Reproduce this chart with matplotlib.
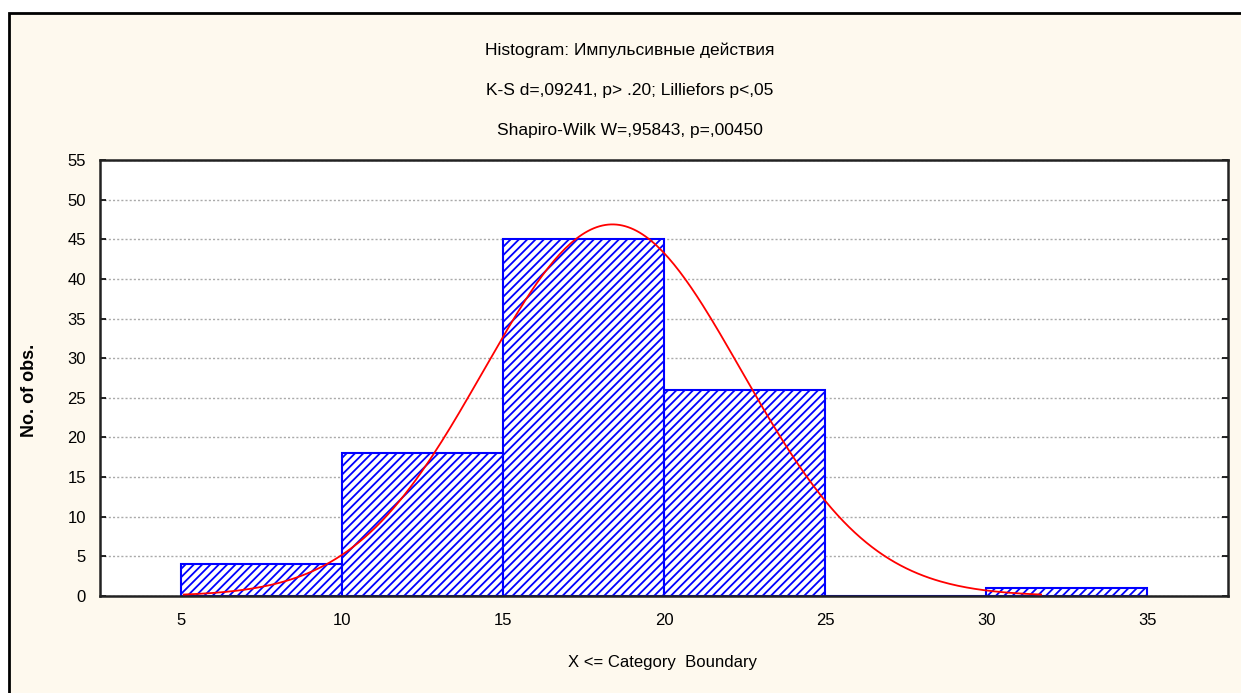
import numpy as np
import matplotlib.pyplot as plt
from matplotlib.patches import Rectangle

# histogram data
bin_left = [5, 10, 15, 20, 25, 30]
counts = [4, 18, 45, 26, 0, 1]
bin_width = 5
# fitted normal curve parameters (peak ~46.8 at ~18.4)
fit_mean = 18.4
fit_sd = 4.0
fit_n = sum(counts)
curve_range = (5.1, 31.7)

title_lines = ['Histogram: Импульсивные действия',
               'K-S d=,09241, p> .20; Lilliefors p<,05',
               'Shapiro-Wilk W=,95843, p=,00450']

plt.rcParams['font.family'] = ['Liberation Sans', 'DejaVu Sans']
plt.rcParams['hatch.linewidth'] = 1.3
plt.rcParams['hatch.color'] = '#0000ff'

fig = plt.figure(figsize=(12.41, 6.93), dpi=100, facecolor='white')

# cream panel with dark border
panel = Rectangle((9 / 1241, -0.05), 1.1, (693 - 13) / 693 + 0.05,
                  transform=fig.transFigure, facecolor='#fef9ee',
                  edgecolor='black', linewidth=2, zorder=-10)
fig.patches.append(panel)

ax = fig.add_axes([100 / 1241, (693 - 596) / 693, 1128 / 1241, 436 / 693])
ax.set_facecolor('white')

ax.bar(bin_left, counts, width=bin_width, align='edge', facecolor='white',
       edgecolor='#0000ff', hatch='////', linewidth=1.5, zorder=2)

xs = np.linspace(curve_range[0], curve_range[1], 300)
ys = fit_n * bin_width / (fit_sd * np.sqrt(2 * np.pi)) * np.exp(-0.5 * ((xs - fit_mean) / fit_sd) ** 2)
ax.plot(xs, ys, color='red', linewidth=1.3, zorder=3)

ax.set_xlim(2.5, 37.5)
ax.set_ylim(0, 55)
ax.set_xticks(range(5, 36, 5))
ax.set_yticks(range(0, 56, 5))
ax.yaxis.grid(True, color='#aaaaaa', linestyle=(0, (1.5, 1.5)), linewidth=1, zorder=1)
ax.set_axisbelow(True)
ax.tick_params(direction='in', length=4, width=1.2, labelsize=12, pad=12,
               right=True, top=False)
ax.tick_params(axis='y', pad=10)
for s in ax.spines.values():
    s.set_linewidth(1.8)
    s.set_color('#222222')

fig.text(30 / 1241, (693 - 390) / 693, 'No. of obs.', rotation=90, ha='center',
         va='center', fontsize=13, fontweight='bold')
fig.text(662 / 1241, (693 - 662) / 693, 'X <= Category  Boundary', ha='center',
         va='center', fontsize=12)

for i, line in enumerate(title_lines):
    fig.text(630 / 1241, (693 - 50 - 40 * i) / 693, line, ha='center', va='center', fontsize=12.5)

fig.savefig('out.png', dpi=100)
